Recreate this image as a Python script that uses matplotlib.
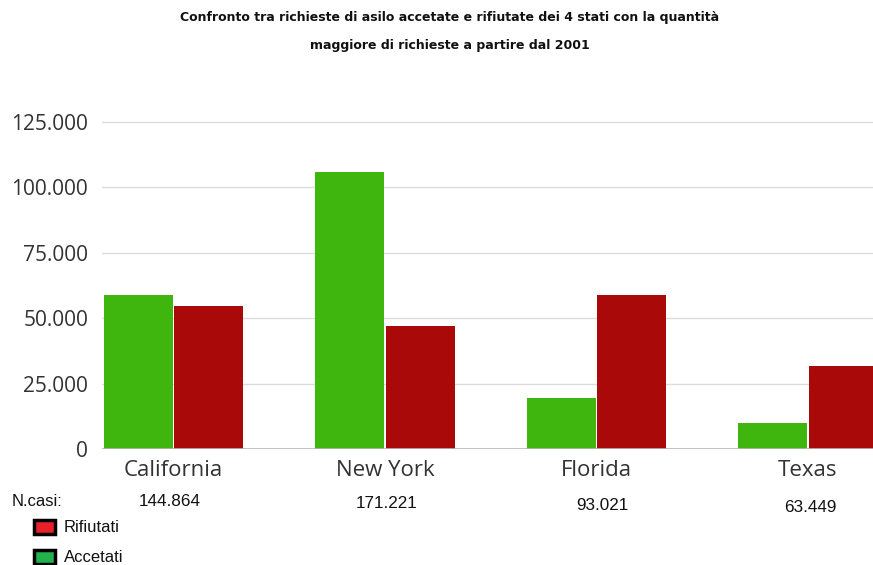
import matplotlib
matplotlib.use("Agg")
import matplotlib.pyplot as plt
import matplotlib.transforms as mtransforms
from matplotlib.patches import Rectangle

# Data
states = ["California", "New York", "Florida", "Texas"]
accettati = [59000, 106000, 19500, 10000]
rifiutati = [54500, 47000, 59000, 31700]
totali = ["144.864", "171.221", "93.021", "63.449"]
yticks = [0, 25000, 50000, 75000, 100000, 125000]
ytick_labels = ["0", "25.000", "50.000", "75.000", "100.000", "125.000"]

GREEN = "#3fb60e"
RED = "#a90909"

W, H = 873, 565
fig = plt.figure(figsize=(W / 100, H / 100), dpi=100)

# axes geometry in pixels
left_px, right_px, zero_px = 102, 873, 449
px_per_unit = 327 / 125000
ytop = 130000
top_px = zero_px - ytop * px_per_unit
ax = fig.add_axes([left_px / W, 1 - zero_px / H, (right_px - left_px) / W,
                   (zero_px - top_px) / H])

step = 211.5
x0 = 173.5
ax.set_xlim((left_px - x0) / step, (right_px - x0) / step)
ax.set_ylim(0, ytop)

bw = 0.326
gap = 0.004
xs = list(range(len(states)))
ax.bar([x - bw / 2 - gap for x in xs], accettati, width=bw, color=GREEN, zorder=3)
ax.bar([x + bw / 2 + gap for x in xs], rifiutati, width=bw, color=RED, zorder=3)

for s in ax.spines.values():
    s.set_visible(False)
ax.set_yticks(yticks)
ax.set_yticklabels(ytick_labels)
ax.yaxis.grid(True, color="#dcdcdc", linewidth=1, zorder=0)
ax.axhline(0, color="#b8b8b8", linewidth=1.2, zorder=4)
ax.tick_params(axis="y", length=0, pad=10, labelsize=15, labelcolor="#333333")
for lbl in ax.get_yticklabels():
    lbl.set_fontfamily("Open Sans")

ax.set_xticks(xs)
ax.set_xticklabels(states)
ax.tick_params(axis="x", length=0, pad=8, labelsize=16, labelcolor="#333333")
for lbl in ax.get_xticklabels():
    lbl.set_fontfamily("Open Sans")

# title
title_kw = dict(ha="center", va="center", fontsize=9, fontweight="bold",
                family="DejaVu Sans", color="#111111")
fig.text(450 / W, 1 - 18 / H,
         "Confronto tra richieste di asilo accetate e rifiutate dei 4 stati con la quantità",
         **title_kw)
fig.text(450 / W, 1 - 45 / H, "maggiore di richieste a partire dal 2001", **title_kw)

# totals row
fig.text(12 / W, 1 - 502 / H, "N.casi:", ha="left", va="center",
         fontsize=12, family="Liberation Sans", color="#111111")
trans = mtransforms.blended_transform_factory(ax.transData, fig.transFigure)
offsets = [-0.02, 0.01, 0.03, 0.01]
ys = [502, 504, 506, 507]
for x, t, o, yy in zip(xs, totali, offsets, ys):
    ax.text(x + o, 1 - yy / H, t, transform=trans, ha="center", va="center",
            fontsize=12.3, family="Liberation Sans", color="#111111", clip_on=False)

# legend
for (y, fc, label) in [(527, "#e8202a", "Rifiutati"), (557, "#22b24c", "Accetati")]:
    fig.patches.append(Rectangle((34 / W, 1 - (y + 7) / H), 21 / W, 14 / H,
                                 transform=fig.transFigure, facecolor=fc,
                                 edgecolor="black", linewidth=2.5))
    fig.text(64 / W, 1 - y / H, label, ha="left", va="center",
             fontsize=12, family="Liberation Sans", color="#111111")

fig.savefig("out.png", dpi=100)
